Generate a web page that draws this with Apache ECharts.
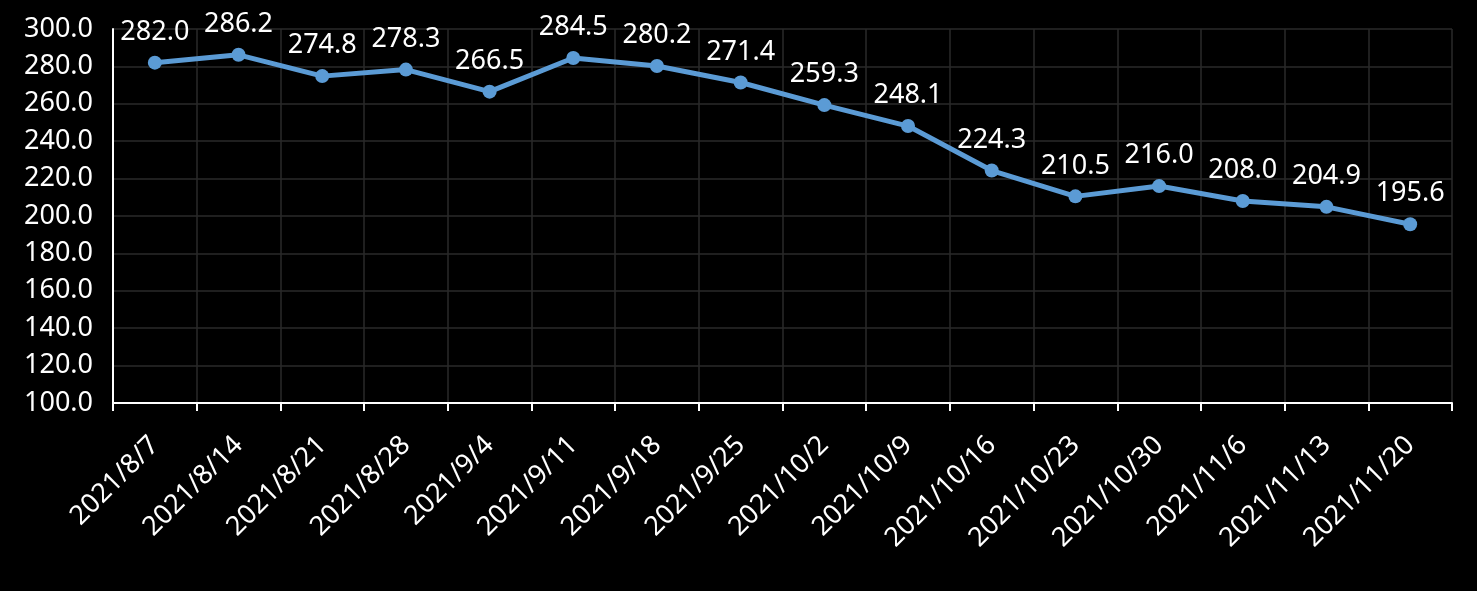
<!DOCTYPE html>
<html><head><meta charset="utf-8">
<script src="https://cdn.jsdelivr.net/npm/echarts@6/dist/echarts.min.js"></script>
<style>html,body{margin:0;padding:0;background:#000;}#c{width:1477px;height:591px;}</style>
</head><body><div id="c"></div>
<script>
const categories = ['2021/8/7','2021/8/14','2021/8/21','2021/8/28','2021/9/4','2021/9/11','2021/9/18','2021/9/25','2021/10/2','2021/10/9','2021/10/16','2021/10/23','2021/10/30','2021/11/6','2021/11/13','2021/11/20'];
const values = [282.0,286.2,274.8,278.3,266.5,284.5,280.2,271.4,259.3,248.1,224.3,210.5,216.0,208.0,204.9,195.6];
const yMin = 100, yMax = 300, yStep = 20;
const FONT = '"Noto Sans", "Noto Sans CJK TC", sans-serif';
const chart = echarts.init(document.getElementById('c'));
chart.setOption({
  backgroundColor: '#000',
  animation: false,
  grid: {left: 113, right: 25, top: 29, bottom: 188, containLabel: false},
  xAxis: {
    type: 'category', data: categories, boundaryGap: true,
    axisLine: {show: true, lineStyle: {color: '#fff', width: 2}},
    axisTick: {show: true, length: 8, lineStyle: {color: '#fff', width: 2}},
    splitLine: {show: true, lineStyle: {color: '#2a2a2a', width: 1.5}},
    axisLabel: {color: '#fff', fontSize: 27, fontFamily: FONT, rotate: 45, margin: 38, interval: 0}
  },
  yAxis: {
    type: 'value', min: yMin, max: yMax, interval: yStep,
    axisLine: {show: true, lineStyle: {color: '#fff', width: 2}},
    axisTick: {show: false},
    splitLine: {show: true, lineStyle: {color: '#2a2a2a', width: 1.5}},
    axisLabel: {color: '#fff', fontSize: 27, fontFamily: FONT, margin: 20, formatter: v => v.toFixed(1)}
  },
  series: [{
    type: 'line', data: values,
    lineStyle: {color: '#5B9BD5', width: 5},
    itemStyle: {color: '#5B9BD5'},
    symbol: 'circle', symbolSize: 14,
    label: {show: true, position: 'top', distance: 10, color: '#fff', fontSize: 27, fontFamily: FONT, formatter: p => p.value.toFixed(1)}
  }]
});
</script></body></html>
